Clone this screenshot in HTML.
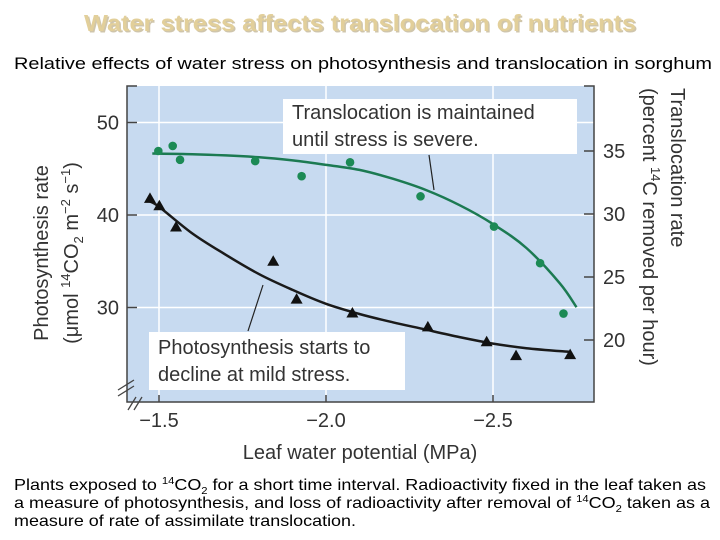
<!DOCTYPE html>
<html><head><meta charset="utf-8"><style>
html,body{margin:0;padding:0;background:#fff;width:720px;height:540px;overflow:hidden}
svg{display:block}
text{font-family:"Liberation Sans","DejaVu Sans",sans-serif}
</style></head><body>
<svg id="chart" width="720" height="540" viewBox="0 0 720 540">
<text x="360" y="31" text-anchor="middle" font-size="23" font-weight="bold" fill="#a08c5a" opacity="0.5" textLength="552" lengthAdjust="spacingAndGlyphs" transform="translate(1.5,1.5)">Water stress affects translocation of nutrients</text>
<text x="360" y="31" text-anchor="middle" font-size="23" font-weight="bold" fill="#e2cf9a" textLength="552" lengthAdjust="spacingAndGlyphs">Water stress affects translocation of nutrients</text>
<text x="363" y="69" text-anchor="middle" font-size="17" fill="#000" textLength="698" lengthAdjust="spacingAndGlyphs">Relative effects of water stress on photosynthesis and translocation in sorghum</text>
<rect x="127" y="86" width="467" height="316" fill="#c7daf0"/>
<g id="grid"></g>
<g id="axes"></g>
<g id="series"></g>
<g>
<rect x="283" y="99" width="294" height="55" fill="#fff"/>
<text x="292" y="119" font-size="20" fill="#333">Translocation is maintained</text>
<text x="292" y="146" font-size="20" fill="#333">until stress is severe.</text>
<line x1="429" y1="155" x2="434" y2="190" stroke="#222" stroke-width="1.2"/>
</g>
<g>
<rect x="149" y="332" width="256" height="58" fill="#fff"/>
<text x="158" y="354" font-size="20" fill="#333">Photosynthesis starts to</text>
<text x="158" y="381" font-size="20" fill="#333">decline at mild stress.</text>
<line x1="263" y1="285" x2="248" y2="331" stroke="#222" stroke-width="1.2"/>
</g>
<text transform="translate(48,253) rotate(-90)" text-anchor="middle" font-size="20" fill="#333">Photosynthesis rate</text>
<text transform="translate(78,253) rotate(-90)" text-anchor="middle" font-size="20" fill="#333">(μmol <tspan font-size="13" dy="-8">14</tspan><tspan dy="8">CO</tspan><tspan font-size="13" dy="5">2</tspan><tspan dy="-5"> m</tspan><tspan font-size="13" dy="-8">−2</tspan><tspan dy="8"> s</tspan><tspan font-size="13" dy="-8">−1</tspan><tspan dy="8">)</tspan></text>
<text transform="translate(671,88) rotate(90)" text-anchor="start" font-size="20" fill="#333">Translocation rate</text>
<text transform="translate(643,88) rotate(90)" text-anchor="start" font-size="20" fill="#333">(percent <tspan font-size="13" dy="-8">14</tspan><tspan dy="8">C removed per hour)</tspan></text>
<text x="360" y="459" text-anchor="middle" font-size="20" fill="#333">Leaf water potential (MPa)</text>
<g font-size="16" fill="#000">
<text x="14" y="490" textLength="692" lengthAdjust="spacingAndGlyphs">Plants exposed to <tspan font-size="10" dy="-6">14</tspan><tspan dy="6">CO</tspan><tspan font-size="10" dy="4">2</tspan><tspan dy="-4"> for a short time interval. Radioactivity fixed in the leaf taken as</tspan></text>
<text x="14" y="508" textLength="696" lengthAdjust="spacingAndGlyphs">a measure of photosynthesis, and loss of radioactivity after removal of <tspan font-size="10" dy="-6">14</tspan><tspan dy="6">CO</tspan><tspan font-size="10" dy="4">2</tspan><tspan dy="-4"> taken as a</tspan></text>
<text x="14" y="526" textLength="342" lengthAdjust="spacingAndGlyphs">measure of rate of assimilate translocation.</text>
</g>
</svg>
<script>
const xTicks = [-1.5, -2.0, -2.5];
const xTickLabels = ["−1.5", "−2.0", "−2.5"];
const leftTicks = [30, 40, 50];
const rightTicks = [20, 25, 30, 35];
const photoX = [-1.473, -1.501, -1.551, -1.842, -1.912, -2.079, -2.305, -2.481, -2.569, -2.731];
const photoY = [41.8, 41.0, 38.7, 35.0, 30.9, 29.4, 27.9, 26.3, 24.8, 24.9];
const transX = [-1.498, -1.541, -1.563, -1.788, -1.927, -2.072, -2.283, -2.503, -2.641, -2.711];
const transY = [35.0, 35.4, 34.3, 34.2, 33.0, 34.1, 31.4, 29.0, 26.1, 22.1];
const photoFitX = [-1.47, -1.5, -1.6, -1.7, -1.8, -1.9, -2.0, -2.1, -2.2, -2.3, -2.4, -2.5, -2.6, -2.73];
const photoFitY = [41.5, 40.9, 38.0, 35.7, 33.6, 31.9, 30.4, 29.3, 28.4, 27.6, 26.8, 26.1, 25.6, 25.2];
const transFitX = [-1.48, -1.6, -1.7, -1.8, -1.9, -2.0, -2.1, -2.2, -2.3, -2.4, -2.5, -2.6, -2.7, -2.75];
const transFitY = [34.8, 34.75, 34.65, 34.5, 34.25, 33.9, 33.5, 32.8, 31.9, 30.7, 29.2, 27.3, 24.5, 22.6];

const NS = "http://www.w3.org/2000/svg";
const X = v => 159 + (-1.5 - v) * 334;
const YL = v => 215 - (v - 40) * 9.25;
const YR = v => 214 - (v - 30) * 12.6;
function mk(tag, attrs, parent) {
  const e = document.createElementNS(NS, tag);
  for (const k in attrs) e.setAttribute(k, attrs[k]);
  parent.appendChild(e);
  return e;
}
function smooth(pts) {
  let d = 'M' + pts[0][0].toFixed(1) + ',' + pts[0][1].toFixed(1);
  for (let i = 0; i < pts.length - 1; i++) {
    const p0 = pts[Math.max(0, i - 1)], p1 = pts[i], p2 = pts[i + 1], p3 = pts[Math.min(pts.length - 1, i + 2)];
    const c1x = p1[0] + (p2[0] - p0[0]) / 6, c1y = p1[1] + (p2[1] - p0[1]) / 6;
    const c2x = p2[0] - (p3[0] - p1[0]) / 6, c2y = p2[1] - (p3[1] - p1[1]) / 6;
    d += ` C${c1x.toFixed(1)},${c1y.toFixed(1)} ${c2x.toFixed(1)},${c2y.toFixed(1)} ${p2[0].toFixed(1)},${p2[1].toFixed(1)}`;
  }
  return d;
}
const grid = document.getElementById('grid');
const axes = document.getElementById('axes');
const series = document.getElementById('series');
xTicks.forEach((t, i) => {
  const g = mk('line', {x1: X(t), x2: X(t), y1: 86, y2: 402, stroke: '#fff', 'stroke-width': 1.5}, grid);
  
  
  const tk = mk('line', {x1: X(t), x2: X(t), y1: 402, y2: 395, stroke: '#444', 'stroke-width': 1.5}, axes);
  
  
  const lb = mk('text', {x: X(t), y: 427, 'text-anchor': 'middle', 'font-size': 20, fill: '#333'}, axes);
  lb.textContent = xTickLabels[i];
  
  
});
leftTicks.forEach(t => {
  const g = mk('line', {x1: 127, x2: 594, y1: YL(t), y2: YL(t), stroke: '#fff', 'stroke-width': 1.5}, grid);
  
  
  const tk = mk('line', {x1: 127, x2: 137, y1: YL(t), y2: YL(t), stroke: '#444', 'stroke-width': 1.5}, axes);
  
  
  const lb = mk('text', {x: 119, y: YL(t) + 7, 'text-anchor': 'end', 'font-size': 20, fill: '#333'}, axes);
  lb.textContent = t;
  
  
});
rightTicks.forEach(t => {
  const tk = mk('line', {x1: 584, x2: 594, y1: YR(t), y2: YR(t), stroke: '#444', 'stroke-width': 1.5}, axes);
  
  
  const lb = mk('text', {x: 603, y: YR(t) + 7, 'text-anchor': 'start', 'font-size': 20, fill: '#333'}, axes);
  lb.textContent = t;
  
  
});
const frame = mk('path', {d: 'M137,86 H127 V402 H594 V86 H584', fill: 'none', stroke: '#444', 'stroke-width': 1.5}, axes);


const brk = mk('path', {d: 'M118,390 L134,380 M118,396 L134,386 M128,410 L136,397 M134,410 L142,397', fill: 'none', stroke: '#444', 'stroke-width': 1.3}, axes);



const tl = mk('path', {d: smooth(transFitX.map((x, i) => [X(x), YR(transFitY[i])])), fill: 'none', stroke: '#1c7a52', 'stroke-width': 2.5}, series);


const pl = mk('path', {d: smooth(photoFitX.map((x, i) => [X(x), YL(photoFitY[i])])), fill: 'none', stroke: '#1a1a1a', 'stroke-width': 2.5}, series);


transX.forEach((x, i) => {
  const c = mk('circle', {cx: X(x), cy: YR(transY[i]), r: 4.3, fill: '#1c8a55'}, series);
  
  
});
photoX.forEach((x, i) => {
  const cx = X(x), cy = YL(photoY[i]);
  const p = mk('polygon', {points: `${cx},${cy-6} ${cx-6},${cy+4.5} ${cx+6},${cy+4.5}`, fill: '#111'}, series);
  
  
});
</script>
</body></html>
